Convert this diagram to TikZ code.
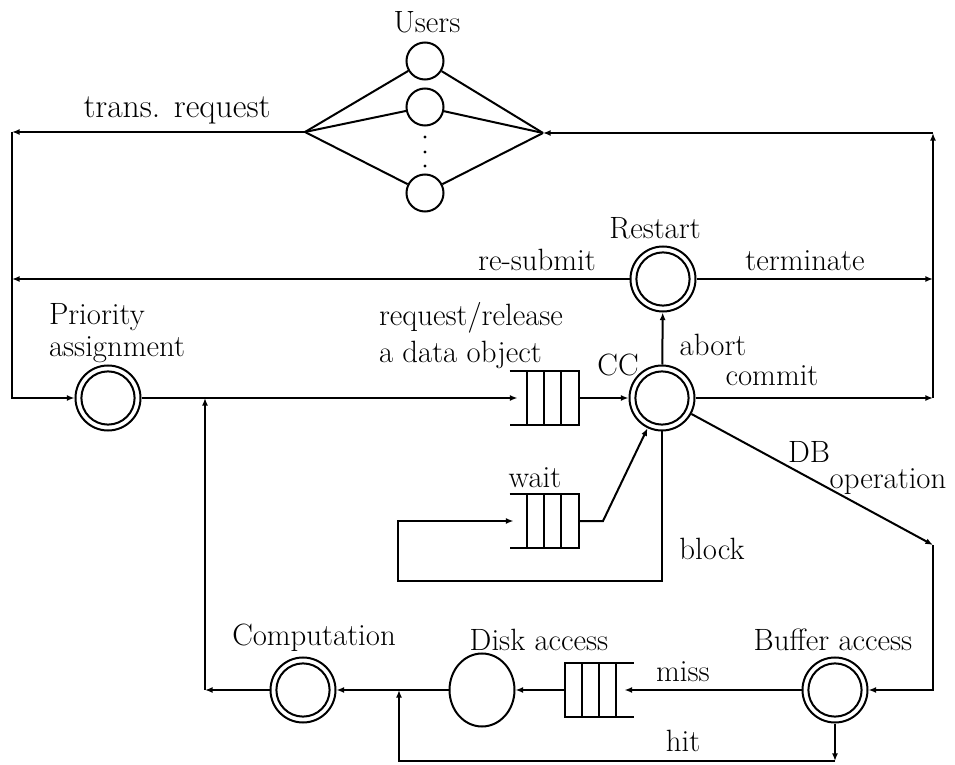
\documentclass[tikz,border=0pt]{standalone}
\usetikzlibrary{arrows.meta,calc,shapes.geometric}
\newcommand\queueopenleft[1]{%
  \draw (#1.north west) -- (#1.north east) -- (#1.south east) -- (#1.south west);
  \foreach \f in {0.25,0.5,0.75}{\draw ($(#1.north west)!\f!(#1.north east)$) -- ($(#1.south west)!\f!(#1.south east)$);}}
\newcommand\queueopenright[1]{%
  \draw (#1.north east) -- (#1.north west) -- (#1.south west) -- (#1.south east);
  \foreach \f in {0.25,0.5,0.75}{\draw ($(#1.north west)!\f!(#1.north east)$) -- ($(#1.south west)!\f!(#1.south east)$);}}
\begin{document}
\begin{tikzpicture}[x=0.5pt,y=-0.5pt, line width=1pt,
  arr/.style={-{Latex[length=3.8pt,width=3pt]}},
  lbl/.style={inner sep=0pt, font=\fontsize{15.4}{18}\selectfont},
  scirc/.style={circle,draw,minimum size=18.5pt,inner sep=0pt},
  dcirc/.style={circle,draw,minimum size=32.5pt,inner sep=0pt,
    path picture={\draw[line width=1pt] (path picture bounding box.center) circle[radius=13.3pt];}},
  qbox/.style={rectangle,minimum width=34.5pt,minimum height=27pt,inner sep=0pt,outer sep=0pt}]
\useasboundingbox (0,0) rectangle (955,765);

% Users
\node[scirc] (u1) at (425,61) {};
\node[scirc] (u2) at (425,107) {};
\node[scirc] (u3) at (425,193) {};
\fill (425,137) circle[radius=0.8pt];
\fill (425,152) circle[radius=0.8pt];
\fill (425,166) circle[radius=0.8pt];
\coordinate (la) at (305,132);
\coordinate (ra) at (543,133);
\coordinate (tl) at (12,132);
\coordinate (tr) at (933,133);

% main stations
\node[dcirc] (prio) at (108,398) {};
\node[qbox] (q1) at (544,398) {};
\node[dcirc] (cc) at (662,398) {};
\node[dcirc] (rs) at (663,279) {};
\coordinate (rsl) at (12,279);
\coordinate (rsr) at (933,279);
\coordinate (cmr) at (933,398);
\coordinate (dbc) at (933,545);
\node[dcirc] (buf) at (835,690) {};
\node[qbox] (q3) at (599,690) {};
\node[ellipse,draw,minimum width=32.5pt,minimum height=36.5pt,inner sep=0pt] (disk) at (482,690) {};
\node[dcirc] (comp) at (303,690) {};
\coordinate (cl) at (205,690);
\coordinate (mj) at (205,398);
\coordinate (hj) at (399,690);
\coordinate (hb) at (835,761);
\node[qbox] (q2) at (544,521) {};
\coordinate (wl) at (398,521);
\coordinate (blk) at (662,581);
\coordinate (wk) at (603,521);

\queueopenleft{q1}
\queueopenleft{q2}
\queueopenright{q3}

% connectors
\draw[arr] (tr) -- (ra);
\draw[arr] (la) -- (tl);
\draw[arr] (tl) |- (prio);
\foreach \u in {u1,u2,u3}{\draw (la) -- (\u); \draw (ra) -- (\u);}
\draw[arr] (prio) -- ($(q1.west)+(8,0)$);
\draw[arr] (q1.east) -- (cc);
\draw[arr] (cc) -- (rs);
\draw[arr] (rs) -- (rsl);
\draw[arr] (rs) -- (rsr);
\draw[arr] (cc) -- (cmr);
\draw[arr] (cmr) -- (tr);
\draw[arr] (cc) -- (dbc);
\draw[arr] (dbc) |- (buf);
\draw[arr] (buf) -- ($(q3.east)+(-9,0)$);
\draw[arr] (q3.west) -- (disk);
\draw[arr] (disk) -- (comp);
\draw[arr] (comp) -- (cl);
\draw[arr] (cl) -- (mj);
\draw[arr] (buf) -- (hb);
\draw[arr] (hb) -| (hj);
\draw[arr] (cc) -- (blk) -| (wl) -- ($(q2.west)+(4,0)$);
\draw[arr] (q2.east) -- (wk) -- (cc);

% labels
\node[lbl] (tUsers) at (427,22) {Users};
\node[lbl,font=\fontsize{16.8}{19}\selectfont] (tTrans) at (177,110) {trans. request};
\node[lbl] (tRestart) at (655,228) {Restart};
\node[lbl] (tResub) at (537,260) {re-submit};
\node[lbl] (tTerm) at (805,261) {terminate};
\node[lbl,anchor=west] (tPrio1) at (48,317) {Priority};
\node[lbl,anchor=west] (tPrio2) at (48,350) {assignment};
\node[lbl,anchor=west] (tReq1) at (378,318) {request/release};
\node[lbl,anchor=west] (tReq2) at (378,355) {a data object};
\node[lbl] (tCC) at (618,365) {CC};
\node[lbl] (tAbort) at (713,345) {abort};
\node[lbl] (tCommit) at (772,376) {commit};
\node[lbl] (tWait) at (535,478) {wait};
\node[lbl] (tBlock) at (712,549) {block};
\node[lbl] (tDB) at (809,452) {DB};
\node[lbl] (tOp) at (888,482) {operation};
\node[lbl] (tComp) at (314,638) {Computation};
\node[lbl] (tDisk) at (539,640) {Disk access};
\node[lbl] (tBuf) at (833,640) {Buffer access};
\node[lbl] (tMiss) at (683,672) {miss};
\node[lbl] (tHit) at (683,741) {hit};
\end{tikzpicture}
\end{document}
